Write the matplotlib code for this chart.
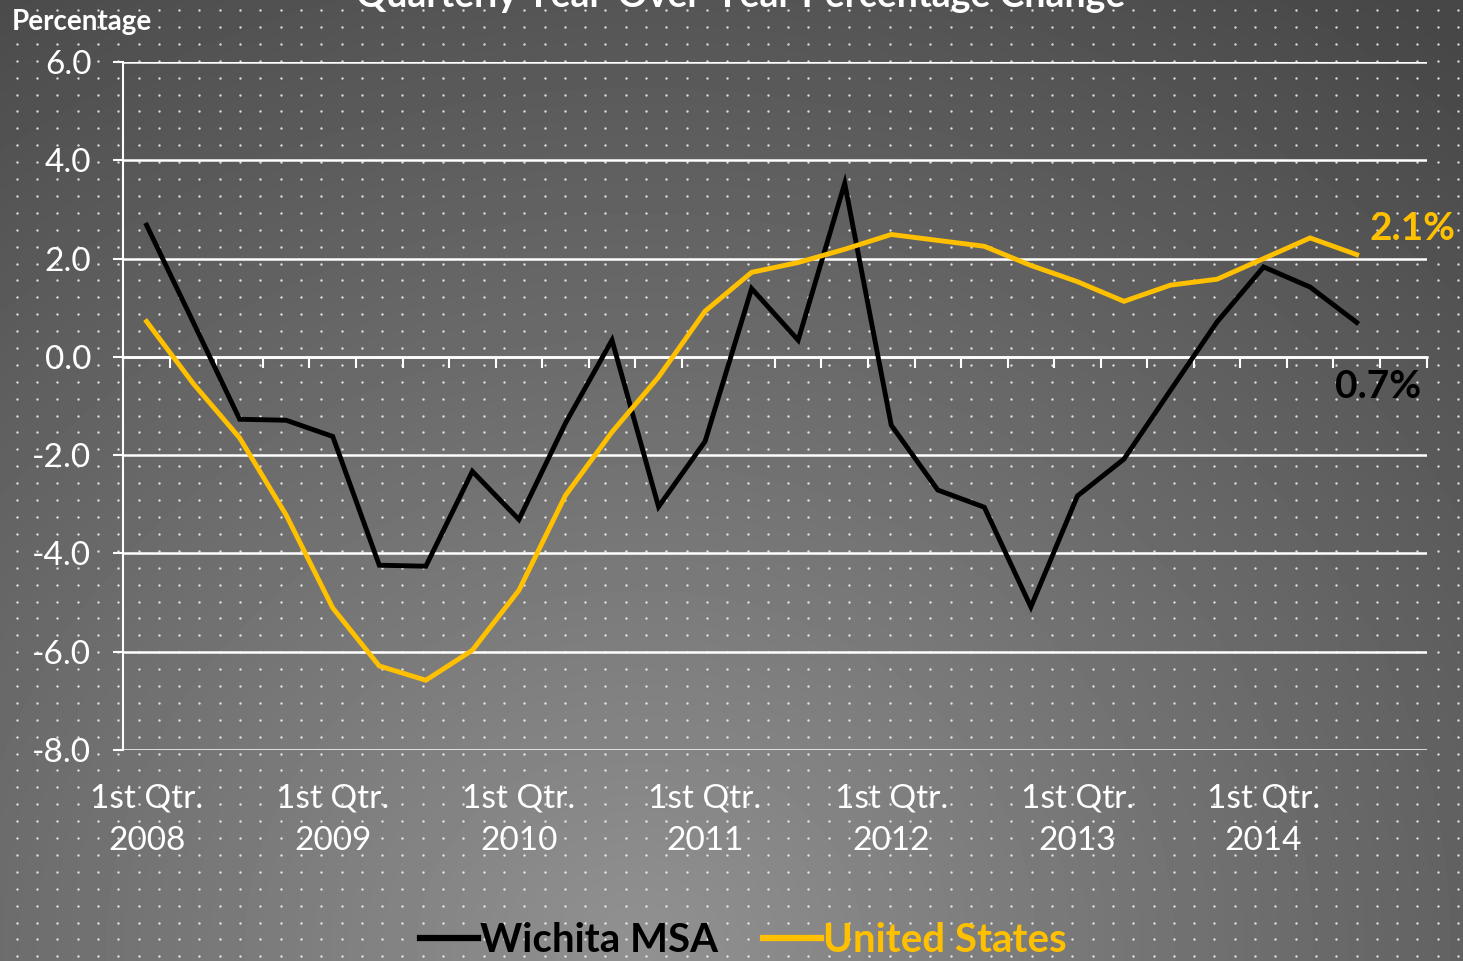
import numpy as np
import matplotlib
matplotlib.use('Agg')
import matplotlib.pyplot as plt
import matplotlib.transforms as mtransforms

plt.rcParams['font.family'] = ['Lato', 'DejaVu Sans']

# ---- data (quarterly, 2008 Q1 .. 2014 Q3) ----
wichita = [2.68, 0.71, -1.27, -1.29, -1.62, -4.24, -4.26, -2.33, -3.31,
           -1.35, 0.34, -3.05, -1.72, 1.39, 0.34, 3.53, -1.39, -2.71,
           -3.06, -5.09, -2.83, -2.08, -0.68, 0.71, 1.83, 1.42, 0.70]
united_states = [0.72, -0.54, -1.65, -3.22, -5.11, -6.29, -6.58, -5.97,
                 -4.75, -2.82, -1.53, -0.41, 0.93, 1.72, 1.92, 2.19, 2.49,
                 2.37, 2.25, 1.86, 1.53, 1.13, 1.46, 1.58, 2.0, 2.42, 2.08]
n_slots = 28   # axis runs to 2014 Q4
year_labels = ['1st Qtr.\n2008', '1st Qtr.\n2009', '1st Qtr.\n2010',
               '1st Qtr.\n2011', '1st Qtr.\n2012', '1st Qtr.\n2013',
               '1st Qtr.\n2014']
year_pos = [0, 4, 8, 12, 16, 20, 24]
y_ticks = [-8, -6, -4, -2, 0, 2, 4, 6]

GOLD = '#FFC000'
W, H = 1463, 961

fig = plt.figure(figsize=(W / 100, H / 100), dpi=100)

# background: radial grey gradient with a dotted pattern
bg = fig.add_axes([0, 0, 1, 1])
yy, xx = np.mgrid[0:H, 0:W]
r = np.hypot(xx - 640, (yy - 950) * 1.1) / 1150
val = np.clip(0.57 - 0.26 * r, 0.28, 0.6)
bg.imshow(val, cmap='gray', vmin=0, vmax=1, extent=(0, W, H, 0),
          aspect='auto', interpolation='bilinear')
dx, dy = np.meshgrid(np.arange(16.7, W, 20.3), np.arange(10, H, 16.9))
bg.scatter(dx.ravel(), dy.ravel(), s=3, c='white', alpha=0.8,
           linewidths=0)
bg.set_xlim(0, W)
bg.set_ylim(H, 0)
bg.axis('off')

ax = fig.add_axes([123.3 / W, 1 - 750 / H, (1426.5 - 123.3) / W, 688 / H])
ax.patch.set_alpha(0)

x = np.arange(len(wichita))
ax.plot(x, wichita, color='black', lw=3.5, solid_joinstyle='miter',
        zorder=3)
ax.plot(x, united_states, color=GOLD, lw=3.5, solid_joinstyle='miter',
        zorder=3)

ax.set_xlim(-0.5, n_slots - 0.5)
ax.set_ylim(-8, 6)
ax.set_yticks(y_ticks)
ax.set_yticklabels(['%.1f' % v for v in y_ticks])
ax.yaxis.grid(True, color='white', lw=1.8)
ax.set_axisbelow(True)

ax.set_xticks(np.arange(-0.5, n_slots, 1))
ax.set_xticklabels([])
ax.spines['bottom'].set_position(('data', 0))
ax.spines['bottom'].set_color('white')
ax.spines['bottom'].set_linewidth(1.8)
ax.spines['left'].set_color('white')
ax.spines['left'].set_linewidth(1.5)
ax.spines['top'].set_visible(False)
ax.spines['right'].set_visible(False)
ax.tick_params(axis='x', colors='white', length=8, width=1.5,
               direction='out')
ax.tick_params(axis='y', colors='white', length=7, width=1.5,
               labelsize=24, pad=16)

trans = mtransforms.blended_transform_factory(ax.transData, ax.transAxes)
for p, lab in zip(year_pos, year_labels):
    ax.text(p, -0.048, lab, transform=trans, ha='center', va='top',
            color='white', fontsize=24, linespacing=1.55)

# end-point labels
ax.annotate('2.1%', xy=(x[-1], united_states[-1]), xytext=(56, 26),
            textcoords='offset pixels', ha='center', va='center',
            color=GOLD, fontsize=28, fontweight='bold')
ax.annotate('0.7%', xy=(x[-1], wichita[-1]), xytext=(21, -64),
            textcoords='offset pixels', ha='center', va='center',
            color='black', fontsize=28, fontweight='bold')

fig.text(0.506, 1 - 7 / H, 'Quarterly Year-Over-Year Percentage Change',
         ha='center', va='baseline', color='white', fontsize=27,
         fontweight='bold')
fig.text(12 / W, 1 - 22 / H, 'Percentage', ha='left', va='center',
         color='white', fontsize=20, fontweight='bold')

handles = ax.get_lines()
leg = fig.legend(handles, ['Wichita MSA', 'United States'], ncol=2,
                 loc='center', bbox_to_anchor=(0.508, 1 - 941 / H),
                 frameon=False, handlelength=1.45, handletextpad=0.05,
                 columnspacing=1.1,
                 prop={'size': 29, 'weight': 'bold'})
for t, c in zip(leg.get_texts(), ['black', GOLD]):
    t.set_color(c)
for h in leg.legend_handles:
    h.set_linewidth(4.5)

fig.savefig('out.png', dpi=100)
